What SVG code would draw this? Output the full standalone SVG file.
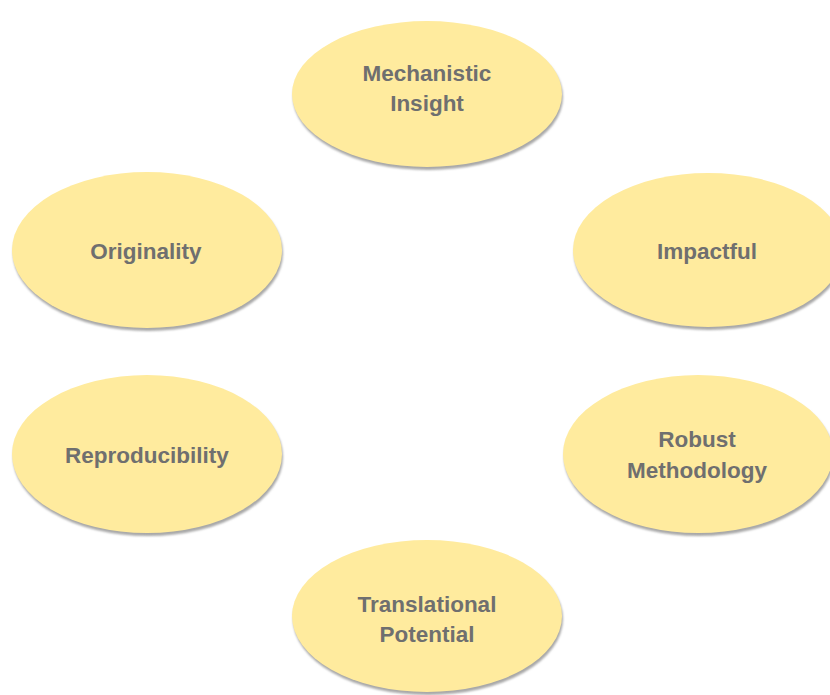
<svg xmlns="http://www.w3.org/2000/svg" width="830" height="695" viewBox="0 0 830 695">
<defs>
<filter id="sh" x="-10%" y="-10%" width="120%" height="130%">
<feGaussianBlur stdDeviation="1.2"/>
</filter>
<style>
.shadow{fill:#a8a8a8;filter:url(#sh)}
.node{fill:#ffeb9e}
.lbl{font-family:"Liberation Sans",Arial,sans-serif;font-weight:bold;font-size:22.5px;fill:#6f6f6f;text-anchor:middle}
</style>
</defs>
<rect width="830" height="695" fill="#ffffff"/>
<g id="connectors"></g>
<g id="mechanistic-insight">
<ellipse class="shadow" cx="428" cy="97" rx="135" ry="73"/>
<ellipse class="node" cx="427" cy="94" rx="135" ry="73"/>
<text class="lbl" x="427" y="81">Mechanistic</text>
<text class="lbl" x="427" y="111">Insight</text>
</g>
<g id="originality">
<ellipse class="shadow" cx="148" cy="253" rx="135" ry="78"/>
<ellipse class="node" cx="147" cy="250" rx="135" ry="78"/>
<text class="lbl" x="146" y="259">Originality</text>
</g>
<g id="impactful">
<ellipse class="shadow" cx="709" cy="253" rx="135" ry="77"/>
<ellipse class="node" cx="708" cy="250" rx="135" ry="77"/>
<text class="lbl" x="707" y="259">Impactful</text>
</g>
<g id="reproducibility">
<ellipse class="shadow" cx="148" cy="457" rx="135" ry="79"/>
<ellipse class="node" cx="147" cy="454" rx="135" ry="79"/>
<text class="lbl" x="147" y="463">Reproducibility</text>
</g>
<g id="robust-methodology">
<ellipse class="shadow" cx="699" cy="457" rx="135" ry="79"/>
<ellipse class="node" cx="698" cy="454" rx="135" ry="79"/>
<text class="lbl" x="697" y="447">Robust</text>
<text class="lbl" x="697" y="478">Methodology</text>
</g>
<g id="translational-potential">
<ellipse class="shadow" cx="428" cy="619" rx="135" ry="76"/>
<ellipse class="node" cx="427" cy="616" rx="135" ry="76"/>
<text class="lbl" x="427" y="612">Translational</text>
<text class="lbl" x="427" y="642">Potential</text>
</g>
</svg>
